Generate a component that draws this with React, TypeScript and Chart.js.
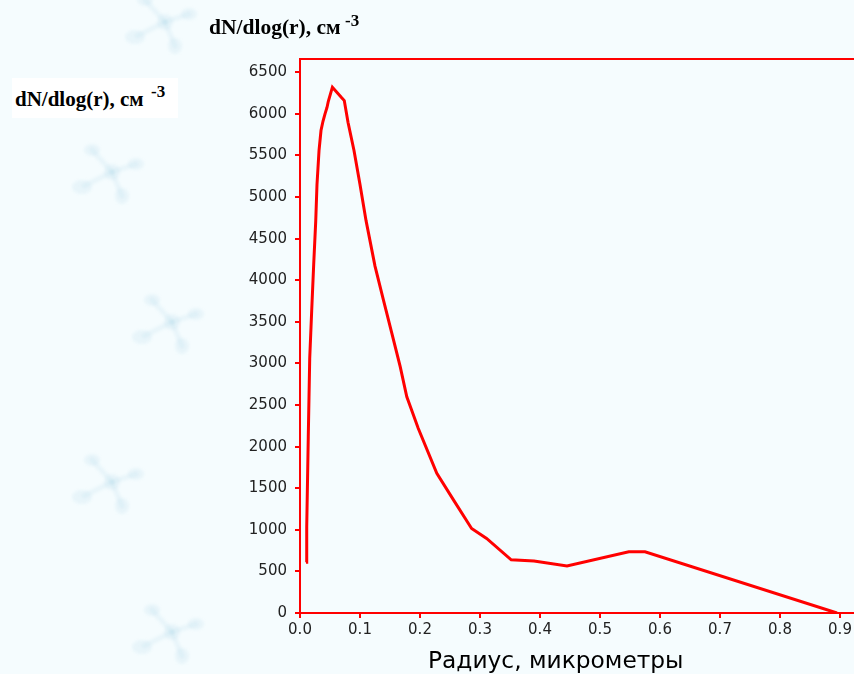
import React, { useEffect, useRef } from "react";
import { Chart, registerables } from "chart.js";

Chart.register(...registerables);

// Radius, micrometres
const RADIUS = [
  0.010, 0.0112, 0.0138, 0.0162, 0.0195, 0.0228, 0.0262, 0.0283, 0.0317, 0.035,
  0.0383, 0.0417, 0.045, 0.0472, 0.054, 0.0695, 0.0738, 0.08, 0.09, 0.1,
  0.11, 0.125, 0.139, 0.153, 0.167, 0.178, 0.186, 0.197, 0.228, 0.256,
  0.286, 0.311, 0.352, 0.39, 0.445, 0.548, 0.575, 0.895,
];
// dN/dlog(r), cm^-3
const DNDLOGR = [
  610, 1035, 2120, 3063, 3636, 4186, 4708, 5148, 5558, 5800,
  5911, 6000, 6077, 6152, 6321, 6193, 6160, 5900, 5560, 5150,
  4720, 4170, 3765, 3364, 2962, 2600, 2440, 2220, 1678, 1357,
  1016, 896, 640, 625, 565, 735, 735, 0,
];
const X_TICKS = [0, 0.1, 0.2, 0.3, 0.4, 0.5, 0.6, 0.7, 0.8, 0.9];
const Y_TICKS = [0, 500, 1000, 1500, 2000, 2500, 3000, 3500, 4000, 4500, 5000, 5500, 6000, 6500];
const X_TITLE = "Радиус, микрометры";
const Y_TITLE = "dN/dlog(r), см";
const Y_TITLE_SUP = "-3";

const RED = "#ff0000";
const BG = "#f5fcfe";

// faint decorative background molecules (page wallpaper)
const DECOR = [
  [165, 22],
  [112, 172],
  [172, 322],
  [112, 482],
  [172, 632],
];

function Molecule({ cx, cy }: { cx: number; cy: number }) {
  const c = "rgba(170,210,232,0.16)";
  return (
    <svg
      style={{ position: "absolute", left: cx - 45, top: cy - 45, filter: "blur(1.5px)" }}
      width={90}
      height={90}
      viewBox="-45 -45 90 90"
    >
      <g stroke={c} strokeWidth={5} strokeLinecap="round">
        <line x1={0} y1={0} x2={-20} y2={-22} />
        <line x1={0} y1={0} x2={24} y2={-8} />
        <line x1={0} y1={0} x2={10} y2={24} />
        <line x1={0} y1={0} x2={-28} y2={14} />
      </g>
      <g fill={c}>
        <circle cx={0} cy={0} r={8} />
        <ellipse cx={-20} cy={-22} rx={8} ry={6} />
        <ellipse cx={24} cy={-8} rx={8} ry={6} />
        <ellipse cx={10} cy={24} rx={7} ry={8} />
        <ellipse cx={-30} cy={15} rx={10} ry={7} />
      </g>
    </svg>
  );
}

export default function App() {
  const ref = useRef<HTMLCanvasElement>(null);

  useEffect(() => {
    if (!ref.current) return;
    const framePlugin = {
      id: "frame",
      beforeDatasetsDraw(chart: any) {
        const { ctx, chartArea } = chart;
        ctx.save();
        ctx.strokeStyle = RED;
        ctx.lineWidth = 2;
        ctx.strokeRect(chartArea.left, chartArea.top, chartArea.right - chartArea.left, chartArea.bottom - chartArea.top);
        ctx.restore();
      },
    };
    const chart = new Chart(ref.current, {
      type: "line",
      data: {
        datasets: [
          {
            data: RADIUS.map((r, i) => ({ x: r, y: DNDLOGR[i] })),
            borderColor: RED,
            borderWidth: 3,
            pointRadius: 0,
            tension: 0,
            fill: false,
          },
        ],
      },
      options: {
        animation: false,
        responsive: false,
        devicePixelRatio: 1,
        layout: { padding: { top: 59, left: 0, right: 0, bottom: 0 } },
        plugins: { legend: { display: false }, tooltip: { enabled: false }, title: { display: false } },
        scales: {
          x: {
            type: "linear",
            min: 0,
            max: 0.95,
            afterBuildTicks: (s: any) => {
              s.ticks = X_TICKS.map((v) => ({ value: v }));
            },
            afterFit: (s: any) => {
              s.height = 61;
            },
            ticks: {
              autoSkip: false,
              maxRotation: 0,
              padding: 3,
              color: "#222",
              font: { family: "DejaVu Sans", size: 15 },
              callback: (v: any) => Number(v).toFixed(1),
            },
            grid: { drawOnChartArea: false, color: RED, lineWidth: 2, tickLength: 5 },
            border: { color: RED, width: 2 },
          },
          y: {
            type: "linear",
            min: 0,
            max: 6660,
            afterBuildTicks: (s: any) => {
              s.ticks = Y_TICKS.map((v) => ({ value: v }));
            },
            afterFit: (s: any) => {
              s.width = 300;
            },
            ticks: {
              autoSkip: false,
              padding: 8,
              color: "#222",
              font: { family: "DejaVu Sans", size: 15 },
              callback: (v: any) => String(v),
            },
            grid: { drawOnChartArea: false, color: RED, lineWidth: 2, tickLength: 5 },
            border: { color: RED, width: 2 },
          },
        },
      },
      plugins: [framePlugin],
    });
    return () => chart.destroy();
  }, []);

  const serif: React.CSSProperties = {
    position: "absolute",
    fontFamily: "'Liberation Serif', 'Times New Roman', serif",
    fontWeight: "bold",
    color: "#000",
    lineHeight: 1,
    whiteSpace: "nowrap",
  };

  return (
    <div
      style={{
        position: "fixed",
        left: 0,
        top: 0,
        width: 854,
        height: 674,
        overflow: "hidden",
        background: BG,
      }}
    >
      {DECOR.map(([x, y], i) => (
        <Molecule key={i} cx={x} cy={y} />
      ))}
      <canvas ref={ref} width={870} height={674} style={{ position: "absolute", left: 0, top: 0 }} />
      {/* axis title above the y axis */}
      <span style={{ ...serif, left: 209, top: 17, fontSize: 21.5 }}>{Y_TITLE}</span>
      <span style={{ ...serif, left: 345, top: 12, fontSize: 17 }}>{Y_TITLE_SUP}</span>
      {/* left copy of the axis title in a white box */}
      <div style={{ position: "absolute", left: 12, top: 78, width: 166, height: 40, background: "#fff" }} />
      <span style={{ ...serif, left: 15, top: 89, fontSize: 21 }}>{Y_TITLE}</span>
      <span style={{ ...serif, left: 151, top: 83, fontSize: 17 }}>{Y_TITLE_SUP}</span>
      {/* x axis title */}
      <span
        style={{
          position: "absolute",
          left: 428,
          top: 648,
          fontFamily: "'DejaVu Sans', Verdana, sans-serif",
          fontSize: 23.3,
          lineHeight: 1,
          color: "#000",
          whiteSpace: "nowrap",
        }}
      >
        {X_TITLE}
      </span>
    </div>
  );
}
